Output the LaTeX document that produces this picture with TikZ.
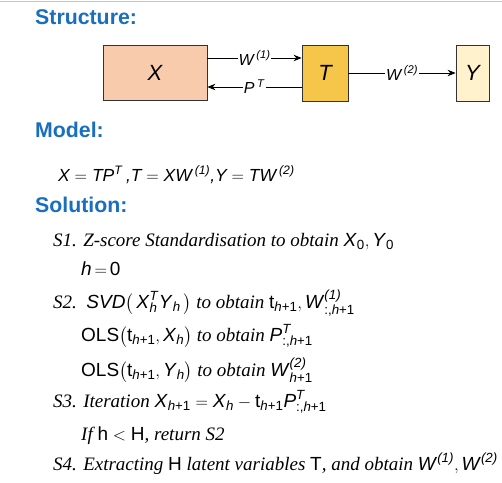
\documentclass[tikz,border=0pt]{standalone}
\usepackage{amsmath}
\usepackage{fontspec}
\setmainfont{Liberation Serif}
\setsansfont{Liberation Sans}
\usetikzlibrary{arrows.meta}
\definecolor{headblue}{RGB}{25,110,190}
\definecolor{xfill}{RGB}{248,203,173}
\definecolor{tfill}{RGB}{245,198,74}
\definecolor{yfill}{RGB}{255,242,204}
\definecolor{edge}{RGB}{50,50,50}
\newcommand\A[1]{\text{\sffamily\itshape #1\/}}
\newcommand\U[1]{\text{\sffamily\upshape #1}}
\tikzset{
  heading/.style={anchor=base west, inner sep=0pt, text=headblue, font=\fontsize{21.3}{25}\selectfont\sffamily\bfseries},
  stepline/.style={anchor=base west, inner sep=0pt, font=\fontsize{19}{22}\selectfont\rmfamily\itshape},
  eqline/.style={anchor=base west, inner sep=0pt, font=\fontsize{17.5}{20}\selectfont\sffamily\itshape},
  varbox/.style={draw=edge, line width=0.8pt, inner sep=0pt, font=\fontsize{22}{25}\selectfont\sffamily\itshape},
  lab/.style={fill=white, inner sep=1pt, font=\fontsize{16}{19}\selectfont\sffamily\itshape},
  arr/.style={draw=black, line width=0.8pt, -{Stealth[length=8pt,width=6.5pt]}},
}
\begin{document}
\begin{tikzpicture}[x=1pt,y=1pt]
\useasboundingbox (0,0) rectangle (502,-482);
\draw[gray!45, line width=1pt] (0,-1) -- (502,-1);

% headings
\node[heading] (hs) at (35,-24) {Structure:};
\node[heading] (hm) at (35,-137) {Model:};
\node[heading] (hsol) at (35,-212) {Solution:};

% structure boxes
\node[varbox, fill=xfill, minimum width=104pt, minimum height=55pt] (X) at (155,-72.5) {X};
\node[varbox, fill=tfill, minimum width=46pt, minimum height=56pt] (T) at (325,-73) {T};
\node[varbox, fill=yfill, minimum width=33pt, minimum height=56pt] (Y) at (472.5,-73) {Y};

\draw[arr] ([yshift=14.5pt]X.east) -- node[lab]{W\,$^{\A{(1)}}$} ([yshift=14.5pt]X.east -| T.west);
\draw[arr] ([yshift=-14pt]T.west) -- node[lab]{P\,$^{\A{T}}$} ([yshift=-14pt]T.west -| X.east);
\draw[arr] (T.east) -- node[lab]{W\,$^{\A{(2)}}$} (Y.west);

% model
\node[eqline] (eq) at (58,-181) {X\;$=$\;TP$^{\A{T}}$\,,T\;$=$\;XW\,$^{\A{(1)}}$,Y\;$=$\;TW\,$^{\A{(2)}}$};

% solution steps
\node[stepline] (s1) at (53,-246) {S1. Z-score Standardisation to obtain $\A{X}_{\U{0}},\A{Y}_{\U{0}}$};
\node[stepline] (s1b) at (81,-275) {$\A{h}\,{=}\,\U{0}$};
\node[stepline] (s2) at (53,-308) {S2.\ \ $\A{SVD}\bigl(\,\A{X}^{\A{T}}_{\A{h}}\A{Y}_{\A{h}}\,\bigr)$\ to obtain $\U{t}_{\A{h}\U{+1}},\A{W}^{\A{(1)}}_{\U{:,}\A{h}\U{+1}}$};
\node[stepline] (s2b) at (81,-341) {$\U{OLS}\bigl(\U{t}_{\A{h}\U{+1}},\A{X}_{\A{h}}\bigr)$\ to obtain $\A{P}^{\A{T}}_{\U{:,}\A{h}\U{+1}}$};
\node[stepline] (s2c) at (81,-376) {$\U{OLS}\bigl(\U{t}_{\A{h}\U{+1}},\A{Y}_{\A{h}}\bigr)$\ to obtain $\A{W}^{\A{(2)}}_{\A{h}\U{+1}}$};
\node[stepline] (s3) at (53,-407) {S3. Iteration $\A{X}_{\A{h}\U{+1}}=\A{X}_{\A{h}}-\U{t}_{\A{h}\U{+1}}\A{P}^{\A{T}}_{\U{:,}\A{h}\U{+1}}$};
\node[stepline] (s3b) at (81,-440) {If $\U{h}<\U{H}$, return S2};
\node[stepline] (s4) at (53,-470) {S4. Extracting $\U{H}$ latent variables $\U{T}$, and obtain $\A{W}^{\A{(1)}},\A{W}^{\A{(2)}}$};
\end{tikzpicture}
\end{document}
